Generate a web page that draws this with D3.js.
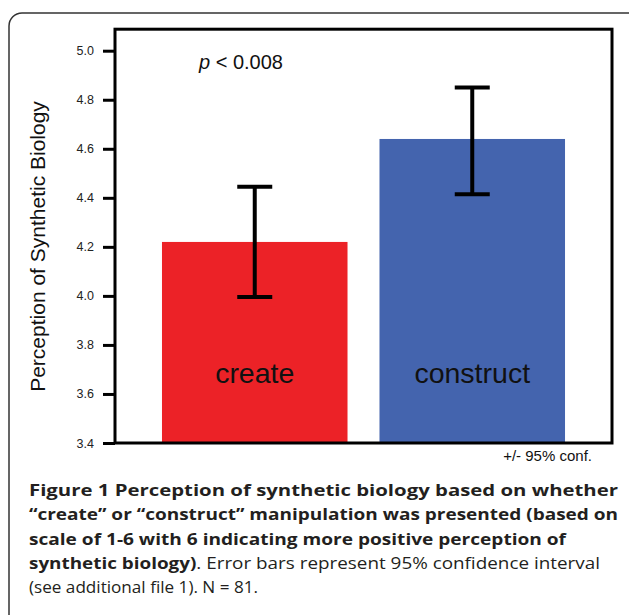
<!DOCTYPE html>
<html>
<head>
<meta charset="utf-8">
<script src="https://cdn.jsdelivr.net/npm/d3@7"></script>
<style>
  body { margin: 0; background: #fff; }
  svg { display: block; }
</style>
</head>
<body>
<svg width="629" height="615"></svg>
<script>
// data
var conditions = ["create", "construct"];
var means = [4.22, 4.64];
var ciLow = [3.995, 4.415];
var ciHigh = [4.445, 4.85];
var barColors = ["#ec2227", "#4464ae"];
var yTicks = [3.4, 3.6, 3.8, 4.0, 4.2, 4.4, 4.6, 4.8, 5.0];

var captionLines = [
  [["Figure 1 Perception of synthetic biology based on whether", true]],
  [["\u201ccreate\u201d or \u201cconstruct\u201d manipulation was presented (based on", true]],
  [["scale of 1-6 with 6 indicating more positive perception of", true]],
  [["synthetic biology)", true], [". Error bars represent 95% confidence interval", false]],
  [["(see additional file 1). N = 81.", false]]
];
var captionWidths = [589, 589, 537, 571, 229];

var data = conditions.map(function(c, i) {
  return { name: c, mean: means[i], lo: ciLow[i], hi: ciHigh[i], color: barColors[i] };
});

var svg = d3.select("svg");

// outer rounded frame (runs off the right/bottom edge like the page crop)
svg.append("rect")
    .attr("x", 9)
    .attr("y", 13)
    .attr("width", 640)
    .attr("height", 640)
    .attr("rx", 13)
    .attr("fill", "none")
    .attr("stroke", "#333")
    .attr("stroke-width", 1.5);

var plotLeft = 115, plotRight = 612, plotBottom = 443;

var x = d3.scaleBand()
    .domain(conditions)
    .range([plotLeft, plotRight])
    .paddingInner(0.147)
    .paddingOuter(0.216);

var y = d3.scaleLinear()
    .domain([3.4, 5.0])
    .range([plotBottom, 50.7]);

var plotTop = y(5.0) - 21.5;

var g = svg.append("g");

// bars
g.selectAll("rect.bar")
  .data(data)
  .enter().append("rect")
    .attr("class", "bar")
    .attr("x", function(d) { return x(d.name); })
    .attr("y", function(d) { return y(d.mean); })
    .attr("width", x.bandwidth())
    .attr("height", function(d) { return plotBottom - y(d.mean); })
    .attr("fill", function(d) { return d.color; });

// bar labels
g.selectAll("text.lab")
  .data(data)
  .enter().append("text")
    .attr("class", "lab")
    .attr("x", function(d) { return x(d.name) + x.bandwidth() / 2; })
    .attr("y", 382.5)
    .attr("text-anchor", "middle")
    .attr("font-family", "Liberation Sans, Arial, sans-serif")
    .attr("font-size", 28.5)
    .attr("fill", "#111")
    .text(function(d) { return d.name; });

// error bars
var capW = 17.5;
var err = g.selectAll("g.err")
  .data(data)
  .enter().append("g")
    .attr("class", "err")
    .attr("stroke", "#000")
    .attr("stroke-width", 4);

err.append("line")
    .attr("x1", function(d) { return x(d.name) + x.bandwidth() / 2; })
    .attr("x2", function(d) { return x(d.name) + x.bandwidth() / 2; })
    .attr("y1", function(d) { return y(d.lo); })
    .attr("y2", function(d) { return y(d.hi); });

err.append("line")
    .attr("x1", function(d) { return x(d.name) + x.bandwidth() / 2 - capW; })
    .attr("x2", function(d) { return x(d.name) + x.bandwidth() / 2 + capW; })
    .attr("y1", function(d) { return y(d.hi); })
    .attr("y2", function(d) { return y(d.hi); });

err.append("line")
    .attr("x1", function(d) { return x(d.name) + x.bandwidth() / 2 - capW; })
    .attr("x2", function(d) { return x(d.name) + x.bandwidth() / 2 + capW; })
    .attr("y1", function(d) { return y(d.lo); })
    .attr("y2", function(d) { return y(d.lo); });

// plot frame
g.append("rect")
    .attr("x", plotLeft)
    .attr("y", plotTop)
    .attr("width", plotRight - plotLeft)
    .attr("height", plotBottom - plotTop)
    .attr("fill", "none")
    .attr("stroke", "#000")
    .attr("stroke-width", 3);

// y axis
var yAxis = g.append("g")
    .attr("transform", "translate(" + plotLeft + ",0)")
    .call(d3.axisLeft(y).tickValues(yTicks).tickFormat(d3.format(".1f")).tickSize(12).tickPadding(9));

yAxis.select(".domain").remove();
yAxis.selectAll(".tick line").attr("stroke", "#000").attr("stroke-width", 3);
yAxis.selectAll(".tick text")
    .attr("font-family", "Liberation Sans, Arial, sans-serif")
    .attr("font-size", 12.5)
    .attr("fill", "#222");

// y label
svg.append("text")
    .attr("transform", "translate(45,246.5) rotate(-90)")
    .attr("text-anchor", "middle")
    .attr("font-family", "Liberation Sans, Arial, sans-serif")
    .attr("font-size", 21)
    .attr("fill", "#111")
    .text("Perception of Synthetic Biology");

// p value
var pt = svg.append("text")
    .attr("x", 199)
    .attr("y", 69)
    .attr("font-family", "Liberation Sans, Arial, sans-serif")
    .attr("font-size", 20)
    .attr("fill", "#111");
pt.append("tspan").attr("font-style", "italic").text("p");
pt.append("tspan").text(" < 0.008");

// CI note
svg.append("text")
    .attr("x", 592)
    .attr("y", 461)
    .attr("text-anchor", "end")
    .attr("font-family", "Liberation Sans, Arial, sans-serif")
    .attr("font-size", 15)
    .attr("fill", "#111")
    .text("+/- 95% conf.");

// caption
var cap = svg.append("g")
    .attr("font-family", "Open Sans, sans-serif")
    .attr("font-size", 15.5)
    .attr("fill", "#231f20");

cap.selectAll("text")
  .data(captionLines)
  .enter().append("text")
    .attr("x", 29)
    .attr("y", function(d, i) { return 496 + i * 24.3; })
    .attr("textLength", function(d, i) { return captionWidths[i]; })
    .attr("lengthAdjust", "spacingAndGlyphs")
  .selectAll("tspan")
  .data(function(d) { return d; })
  .enter().append("tspan")
    .attr("font-weight", function(d) { return d[1] ? "bold" : "normal"; })
    .text(function(d) { return d[0]; });
</script>
</body>
</html>
